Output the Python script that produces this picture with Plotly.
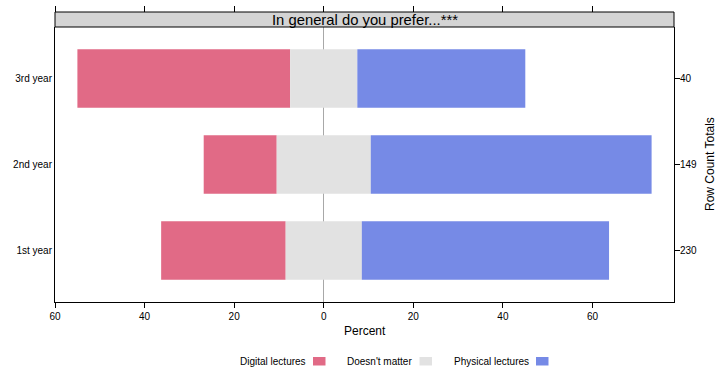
import plotly.graph_objects as go

# Survey: "In general do you prefer..." by year of study (row percentages)
years = ["1st year", "2nd year", "3rd year"]
row_totals = [230, 149, 40]
digital = [27.8, 16.3, 47.5]
neutral = [17.0, 21.0, 15.0]
physical = [55.2, 62.7, 37.5]

levels = ["Digital lectures", "Doesn't matter", "Physical lectures"]
colors = ["#E16A86", "#E2E2E2", "#768AE6"]
x_ticks = [-60, -40, -20, 0, 20, 40, 60]

W, H = 717, 370
ML, MR, MT, MB = 55, 43, 12, 68
plot_w = W - ML - MR
plot_h = H - MT - MB
strip_px = 15
ydom_top = (plot_h - strip_px) / plot_h

FONT = "Liberation Sans, Arial, Helvetica, sans-serif"

# diverging stacks: neutral centred on zero
half = [n / 2 for n in neutral]
bases = [
    [-(d + h) for d, h in zip(digital, half)],
    [-h for h in half],
    list(half),
]
values = [digital, neutral, physical]

fig = go.Figure()
for name, col, vals, base in zip(levels, colors, values, bases):
    fig.add_trace(go.Bar(
        y=list(range(1, len(years) + 1)), x=vals, base=base,
        orientation="h", width=0.68, name=name,
        marker=dict(color=col, line=dict(width=0)),
        showlegend=False, hoverinfo="skip",
    ))

# carriers for the top tick marks and the right-hand count axis
fig.add_trace(go.Scatter(x=[0], y=[2], xaxis="x2", yaxis="y", mode="markers",
                         marker=dict(opacity=0), showlegend=False, hoverinfo="skip"))
fig.add_trace(go.Scatter(x=[0], y=[2], xaxis="x", yaxis="y2", mode="markers",
                         marker=dict(opacity=0), showlegend=False, hoverinfo="skip"))

xr = [-60, -60 + plot_w / 4.479]

fig.update_layout(
    width=W, height=H,
    margin=dict(l=ML, r=MR, t=MT, b=MB, pad=0, autoexpand=False),
    paper_bgcolor="white", plot_bgcolor="white",
    font=dict(family=FONT, size=10, color="black"),
    barmode="overlay",
    xaxis=dict(
        range=xr, domain=[0, 1], tickvals=x_ticks, automargin=False,
        ticktext=[str(abs(t)) for t in x_ticks],
        ticks="outside", ticklen=5, tickwidth=1, tickcolor="black",
        showline=True, linecolor="black", linewidth=1,
        showgrid=False, zeroline=True, zerolinecolor="#A8A8A8", zerolinewidth=1,
        tickfont=dict(size=10),
    ),
    xaxis2=dict(
        overlaying="x", matches="x", side="top", anchor="free", position=1,
        tickvals=x_ticks, showticklabels=False, automargin=False,
        ticks="outside", ticklen=6, tickwidth=1, tickcolor="black",
        showline=False, showgrid=False, zeroline=False,
    ),
    yaxis=dict(
        range=[0.4, len(years) + 0.6], domain=[0, ydom_top], automargin=False,
        tickvals=list(range(1, len(years) + 1)), ticktext=years,
        ticks="", ticklabelstandoff=0,
        showline=True, linecolor="black", linewidth=1,
        showgrid=False, zeroline=False, tickfont=dict(size=10),
    ),
    yaxis2=dict(
        overlaying="y", matches="y", side="right", anchor="x", automargin=False,
        tickvals=list(range(1, len(years) + 1)),
        ticktext=[str(n) for n in row_totals],
        ticks="outside", ticklen=5, tickwidth=1, tickcolor="black",
        ticklabelstandoff=-2,
        showline=True, linecolor="black", linewidth=1,
        showgrid=False, zeroline=False, tickfont=dict(size=10),
    ),
)


def px_x(p):
    return (p - ML) / plot_w


def px_y(p):
    return (MT + plot_h - p) / plot_h


# axis titles
fig.add_annotation(text="Percent", xref="paper", yref="paper",
                   x=px_x(364.5), y=px_y(331), xanchor="center", yanchor="middle",
                   showarrow=False, font=dict(size=12, color="black"))
fig.add_annotation(text="Row Count Totals", xref="paper", yref="paper",
                   x=px_x(709.5), y=ydom_top / 2, xanchor="center", yanchor="middle",
                   textangle=-90, showarrow=False, font=dict(size=12, color="black"))

# strip header above the panel
fig.add_shape(type="rect", xref="paper", yref="paper",
              x0=0, x1=1, y0=ydom_top, y1=1,
              fillcolor="#D4D4D4", line=dict(color="black", width=1), layer="above")
fig.add_annotation(text="In general do you prefer...***", xref="paper", yref="paper",
                   x=0.5, y=(ydom_top + 1) / 2, xanchor="center", yanchor="middle",
                   showarrow=False, font=dict(size=14.8, color="black"))

# key below the panel: label followed by a colour swatch
key_text_right = [307.5, 414, 530.5]
key_y = 361
for name, col, xr_text in zip(levels, colors, key_text_right):
    fig.add_annotation(text=name, xref="paper", yref="paper",
                       x=px_x(xr_text), y=px_y(key_y), xanchor="right", yanchor="middle",
                       showarrow=False, font=dict(size=10, color="black"))
    fig.add_shape(type="rect", xref="paper", yref="paper",
                  x0=px_x(xr_text + 5.5), x1=px_x(xr_text + 18),
                  y0=px_y(key_y - 4), y1=px_y(key_y + 4.5),
                  fillcolor=col, line=dict(width=0))

fig.write_html("out.html")
